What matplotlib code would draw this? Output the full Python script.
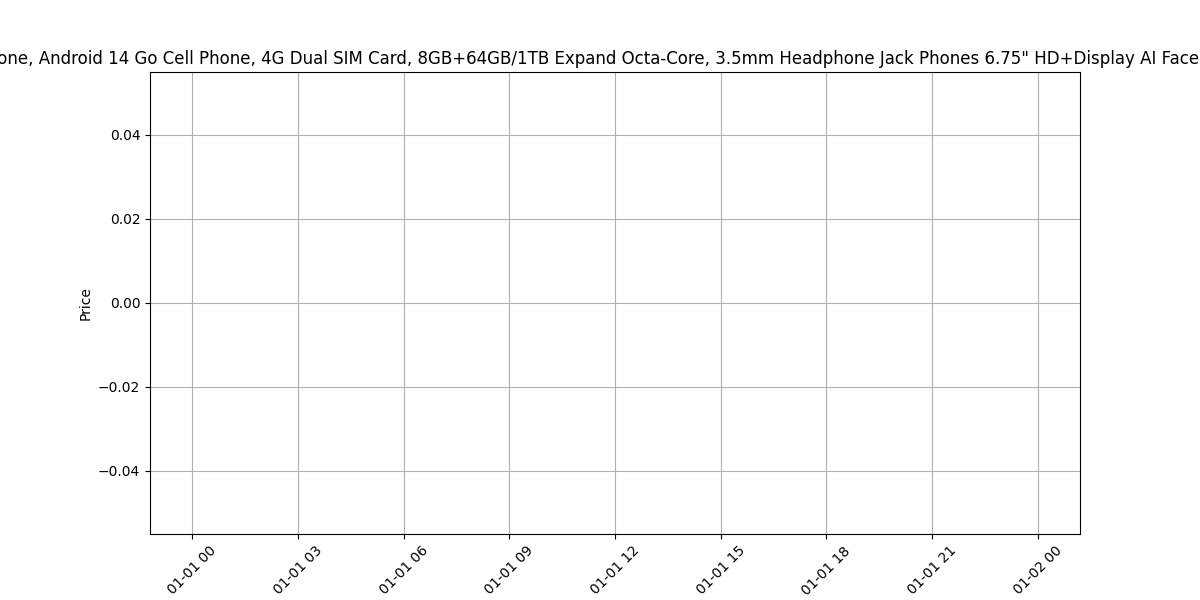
import matplotlib
matplotlib.use("Agg")
import matplotlib.pyplot as plt
import pandas as pd

title = ('Smartphone, Android 14 Go Cell Phone, 4G Dual SIM Card, 8GB+64GB/1TB Expand '
         'Octa-Core, 3.5mm Headphone Jack Phones 6.75" HD+Display AI Face ID Unlocked')
dates = pd.to_datetime([])
prices = []

fig, ax = plt.subplots(figsize=(12, 6), dpi=100)
ax.plot(dates, prices, marker='o')
ax.set_title(title)
ax.set_ylabel('Price')
ax.grid(True)
plt.xticks(rotation=45)
fig.savefig('out.png')
